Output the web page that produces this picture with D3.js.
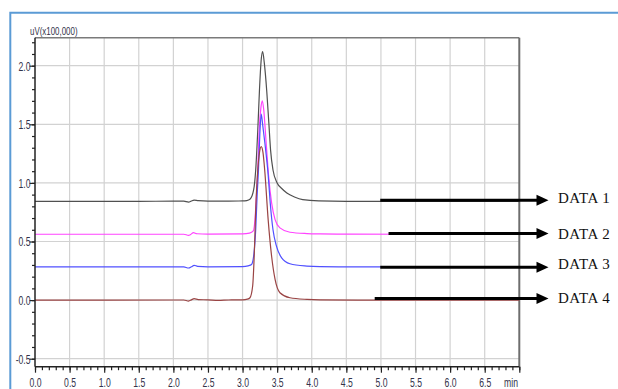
<!DOCTYPE html>
<html>
<head>
<meta charset="utf-8">
<script src="https://cdn.jsdelivr.net/npm/d3@7"></script>
<style>
  html, body { margin: 0; padding: 0; background: #fff; }
  svg { display: block; }
</style>
</head>
<body>
<svg id="chart" width="618" height="389"></svg>
<script>
// Chromatogram traces: [retention time (min), signal (uV x100,000)]
const data1 = [
  [0, 0.843], [0.5, 0.843], [1.0, 0.843], [1.5, 0.843], [2.0, 0.844], [2.15, 0.844],
  [2.22, 0.836], [2.26, 0.846], [2.30, 0.853], [2.36, 0.848], [2.5, 0.845], [2.8, 0.845],
  [3.0, 0.846], [3.06, 0.849], [3.107, 0.860], [3.16, 0.94], [3.19, 1.11], [3.22, 1.45],
  [3.245, 1.80], [3.268, 2.04], [3.29, 2.12], [3.313, 2.03], [3.35, 1.78], [3.38, 1.51],
  [3.405, 1.28], [3.44, 1.11], [3.50, 1.00], [3.57, 0.95], [3.64, 0.914], [3.75, 0.88],
  [3.87, 0.857], [4.1, 0.846], [4.5, 0.843], [5.0, 0.843], [6.0, 0.843], [7.0, 0.843]
];
const data2 = [
  [0, 0.562], [1.0, 0.562], [2.0, 0.562], [2.15, 0.562], [2.22, 0.553], [2.25, 0.560],
  [2.29, 0.575], [2.34, 0.566], [2.5, 0.563], [3.0, 0.565], [3.10, 0.572], [3.155, 0.59],
  [3.18, 0.69], [3.20, 0.885], [3.22, 1.11], [3.24, 1.45], [3.265, 1.64], [3.285, 1.70],
  [3.305, 1.63], [3.34, 1.35], [3.375, 1.07], [3.42, 0.83], [3.47, 0.687], [3.54, 0.616],
  [3.685, 0.579], [3.93, 0.568], [4.12, 0.565], [4.5, 0.563], [5.5, 0.562], [7.0, 0.562]
];
const data3 = [
  [0, 0.283], [1.0, 0.283], [2.0, 0.283], [2.15, 0.283], [2.22, 0.274], [2.26, 0.284],
  [2.30, 0.297], [2.35, 0.288], [2.5, 0.284], [3.0, 0.285], [3.08, 0.292], [3.13, 0.304],
  [3.165, 0.40], [3.19, 0.60], [3.21, 0.885], [3.23, 1.11], [3.25, 1.42], [3.27, 1.586],
  [3.29, 1.50], [3.32, 1.353], [3.37, 1.07], [3.40, 0.829], [3.44, 0.60], [3.49, 0.46],
  [3.565, 0.36], [3.685, 0.31], [3.93, 0.29], [4.12, 0.285], [4.5, 0.283], [7.0, 0.283]
];
const data4 = [
  [0, 0.0], [1.0, 0.0], [2.0, 0.001], [2.15, 0.001], [2.22, -0.008], [2.26, 0.002],
  [2.30, 0.012], [2.36, 0.004], [2.5, 0.002], [2.65, -0.003], [2.8, 0.001], [3.0, 0.002],
  [3.07, 0.008], [3.107, 0.02], [3.146, 0.12], [3.17, 0.40], [3.19, 0.77], [3.22, 1.11],
  [3.245, 1.26], [3.27, 1.31], [3.295, 1.26], [3.32, 1.11], [3.37, 0.687], [3.42, 0.374],
  [3.47, 0.176], [3.54, 0.063], [3.685, 0.02], [3.93, 0.006], [4.12, 0.002], [5.0, 0.0],
  [7.0, 0.0]
];
const seriesNames = ["DATA 1", "DATA 2", "DATA 3", "DATA 4"];
const seriesColors = ["#505050", "#ff44ff", "#5050ff", "#9a4444"];
// Arrow annotations: signal level each arrow sits at and where it starts (min)
const arrowLevels = [0.851, 0.568, 0.281, 0.0145];
const arrowStarts = [4.99, 5.11, 4.99, 4.91];
const xTickLabels = ["0.0", "0.5", "1.0", "1.5", "2.0", "2.5", "3.0", "3.5", "4.0", "4.5", "5.0", "5.5", "6.0", "6.5"];
const yTickLabels = ["-0.5", "0.0", "0.5", "1.0", "1.5", "2.0"];
const yAxisTitle = "uV(x100,000)";
const xAxisUnit = "min";

const svg = d3.select("#chart");
const plot = { left: 35, right: 519.3, top: 37.7, bottom: 366.7 };

const x = d3.scaleLinear().domain([0, 7]).range([plot.left, plot.right]);
const y = d3.scaleLinear().domain([-0.5, 2.0]).range([358.7, 65.7]);

const xMajor = xTickLabels.map(Number).concat([7.0]);
const yMajor = yTickLabels.map(Number);
const xMinor = d3.range(0, 71).map(i => i / 10);
const yMinor = d3.range(-5, 23).map(i => i / 10);

// narrow instrument-style lettering: Liberation Sans squeezed horizontally
const narrowFont = '"Liberation Sans", Arial, sans-serif';
const squeeze = 0.72;
function narrowText(sel, ax, ay, size, anchor) {
  sel.attr("font-family", narrowFont)
    .attr("font-size", size)
    .attr("text-anchor", anchor)
    .attr("transform", `translate(${ax},${ay}) scale(${squeeze},1)`)
    .attr("x", 0).attr("y", 0)
    .attr("dy", null);
}

// outer blue frame
svg.append("path")
  .attr("d", `M10.3,389 L10.3,12.7 L618,12.7`)
  .attr("fill", "none").attr("stroke", "#5b9bd5").attr("stroke-width", 2);

// grid
const grid = svg.append("g");
grid.selectAll("line.gx").data(xMajor.filter(v => v > 0 && v < 7)).join("line")
  .attr("x1", d => x(d)).attr("x2", d => x(d))
  .attr("y1", plot.top).attr("y2", plot.bottom)
  .attr("stroke", "#d2d2d2").attr("stroke-width", 1.2);
grid.selectAll("line.gy").data(yMajor).join("line")
  .attr("x1", plot.left).attr("x2", plot.right)
  .attr("y1", d => y(d)).attr("y2", d => y(d))
  .attr("stroke", "#d2d2d2").attr("stroke-width", 1.2);

// plot frame (top and right)
svg.append("line").attr("x1", plot.left).attr("x2", plot.right)
  .attr("y1", plot.top).attr("y2", plot.top)
  .attr("stroke", "#7a7a7a").attr("stroke-width", 1.5);
svg.append("line").attr("x1", plot.right).attr("x2", plot.right)
  .attr("y1", plot.top).attr("y2", plot.bottom)
  .attr("stroke", "#6e6e6e").attr("stroke-width", 2);

// traces
const line = d3.line().x(d => x(d[0])).y(d => y(d[1])).curve(d3.curveMonotoneX);
const allSeries = [data1, data2, data3, data4];
svg.append("g").selectAll("path").data(allSeries).join("path")
  .attr("d", line)
  .attr("fill", "none")
  .attr("stroke", (d, i) => seriesColors[i])
  .attr("stroke-width", 1.2);

// axes
const axisColor = "#222";
const labelColor = "#33334a";

const yAxis = svg.append("g").attr("transform", `translate(${plot.left},0)`)
  .call(d3.axisLeft(y).tickValues(yMajor).tickSize(5.5)
    .tickFormat((d, i) => yTickLabels[i]));
const yMinorAxis = svg.append("g").attr("transform", `translate(${plot.left},0)`)
  .call(d3.axisLeft(y).tickValues(yMinor).tickSize(3).tickFormat(""));
yMinorAxis.select(".domain").remove();
yAxis.select(".domain").attr("d", `M0,${plot.top}V${plot.bottom}`).attr("stroke", axisColor).attr("stroke-width", 1.5);
yAxis.selectAll(".tick text").each(function () {
  narrowText(d3.select(this), -4.5, 4.3, 12, "end");
});

const xAxis = svg.append("g").attr("transform", `translate(0,${plot.bottom})`)
  .call(d3.axisBottom(x).tickValues(xMajor).tickSize(6)
    .tickFormat((d, i) => i < xTickLabels.length ? xTickLabels[i] : ""));
const xMinorAxis = svg.append("g").attr("transform", `translate(0,${plot.bottom})`)
  .call(d3.axisBottom(x).tickValues(xMinor).tickSize(3.5).tickFormat(""));
xMinorAxis.select(".domain").remove();
xAxis.select(".domain").attr("d", `M${plot.left},0H${plot.right}`).attr("stroke", axisColor).attr("stroke-width", 1.5);
xAxis.selectAll(".tick text").each(function () {
  narrowText(d3.select(this), 0, 19.8, 12, "middle");
});

[xAxis, yAxis, xMinorAxis, yMinorAxis].forEach(g => {
  g.selectAll(".tick line").attr("stroke", axisColor).attr("stroke-width", 1.2);
  g.selectAll(".tick text").attr("fill", labelColor);
});

svg.append("text").attr("fill", labelColor).text(xAxisUnit)
  .call(narrowText, x(6.88), plot.bottom + 19.8, 12, "middle");

svg.append("text").attr("fill", labelColor).text(yAxisTitle)
  .call(narrowText, 30, 34.5, 11, "start");

// arrows pointing to the trace labels
const tipX = 548.5;
const labelShift = [2.6, 5.3, 1.6, 4.3];
const ann = svg.append("g");
seriesNames.forEach((name, i) => {
  const yy = y(arrowLevels[i]);
  ann.append("line")
    .attr("x1", x(arrowStarts[i])).attr("x2", tipX - 11)
    .attr("y1", yy).attr("y2", yy)
    .attr("stroke", "#000").attr("stroke-width", 3);
  ann.append("path")
    .attr("d", `M${tipX},${yy} L${tipX - 12},${yy - 5.5} L${tipX - 12},${yy + 5.5} Z`)
    .attr("fill", "#000");
  ann.append("text")
    .attr("x", 558).attr("y", yy + labelShift[i])
    .attr("font-family", '"Liberation Serif", "Times New Roman", serif')
    .attr("font-size", 15).attr("fill", "#111")
    .attr("letter-spacing", 0.5)
    .text(name);
});
</script>
</body>
</html>
